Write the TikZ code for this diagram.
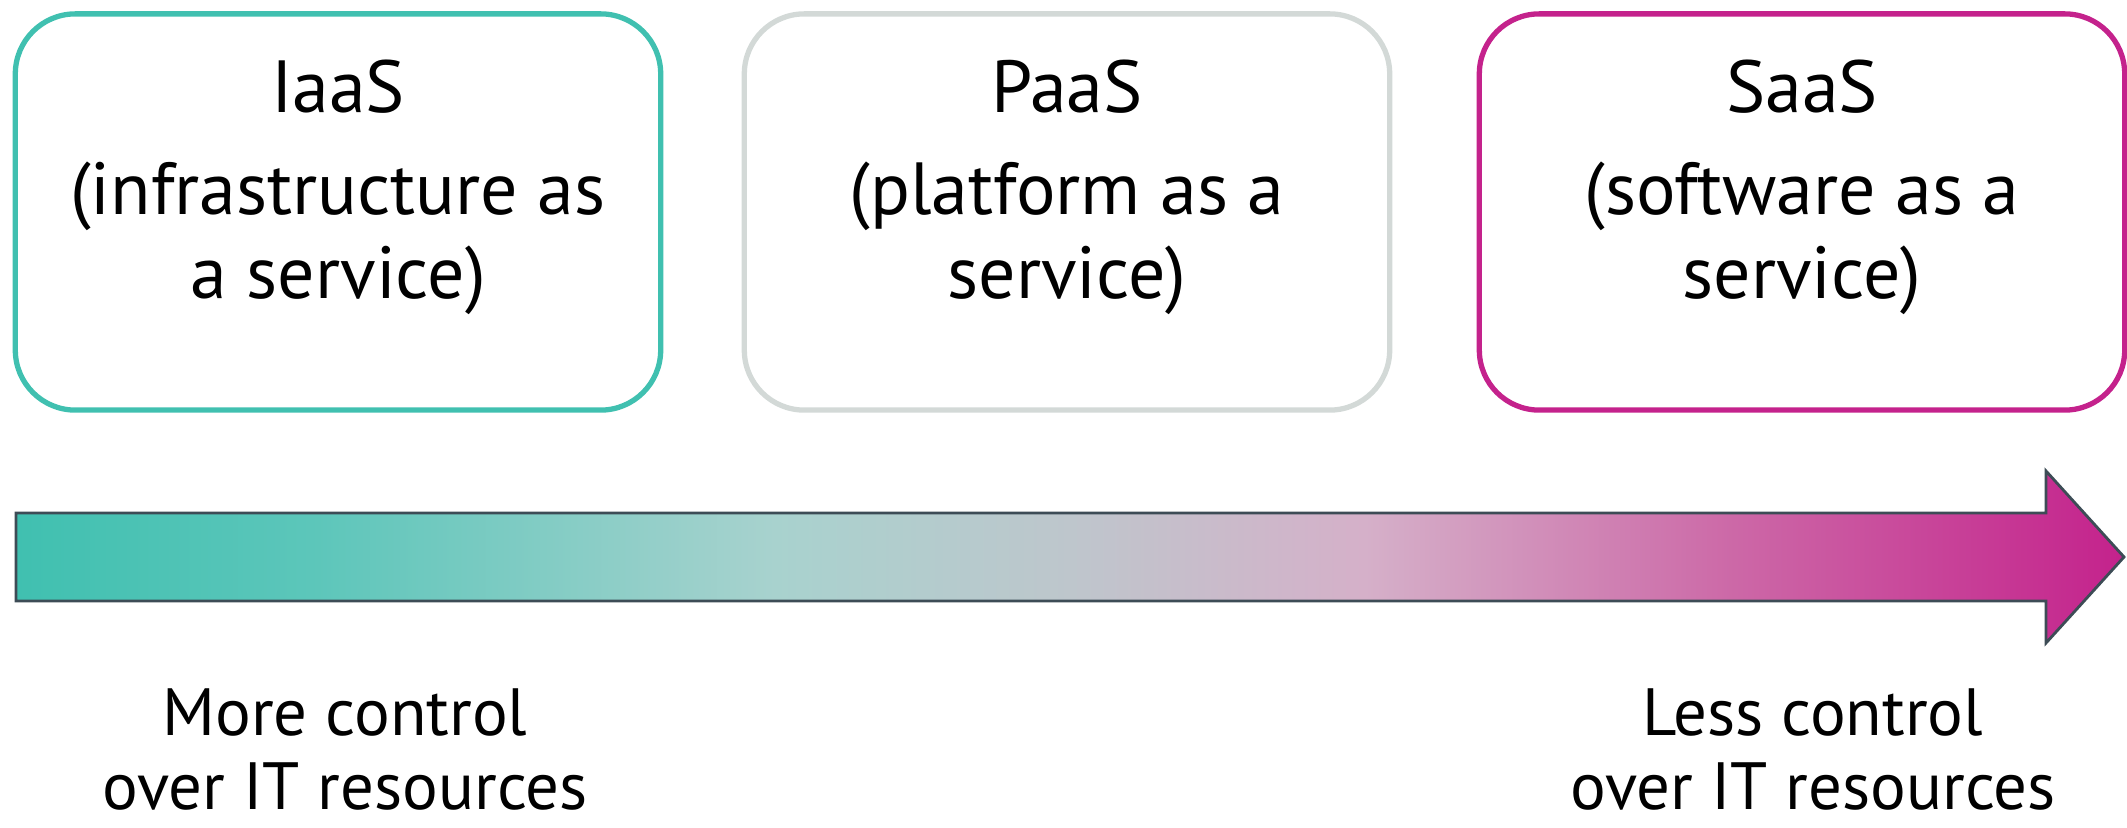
\documentclass[tikz,border=0pt]{standalone}
\usepackage{fontspec}
\setmainfont{PT Sans}
\usetikzlibrary{positioning}
\definecolor{iaasteal}{HTML}{40C0B0}
\definecolor{paasgrey}{HTML}{D3D9D7}
\definecolor{saasmag}{HTML}{C4228C}
\definecolor{arrowedge}{HTML}{3D4C56}
\definecolor{fadeA}{HTML}{5CC6BA}
\definecolor{fadeB}{HTML}{A8D2CE}
\definecolor{fadeC}{HTML}{BEC6CC}
\definecolor{fadeD}{HTML}{D5B0C9}
\definecolor{fadeE}{HTML}{CC66A6}
\pgfdeclarehorizontalshading{controlfade}{100bp}{color(0bp)=(iaasteal); color(25bp)=(iaasteal); color(32bp)=(fadeA); color(43bp)=(fadeB); color(50bp)=(fadeC); color(57bp)=(fadeD); color(66bp)=(fadeE); color(75bp)=(saasmag); color(100bp)=(saasmag)}

\begin{document}
\begin{tikzpicture}[x=0.01cm,y=-0.01cm]
		\path[use as bounding box] (0,0) rectangle (2127,828);
		\tikzstyle{every node}=[inner sep=0pt]
		\tikzstyle{svcbox}=[draw,rounded corners=0.6cm,line width=1.5pt,minimum width=6.45cm,minimum height=3.96cm]
		\tikzstyle{svclabel}=[align=center,font=\fontsize{21}{24}\selectfont]
		\tikzstyle{ctrllabel}=[align=center,font=\fontsize{19}{21}\selectfont]
		
		%% Service models
		\draw (338,212) node [svcbox,draw=iaasteal] (iaas) {};
		\draw (1067,212) node [svcbox,draw=paasgrey] (paas) {};
		\draw (1802,212) node [svcbox,draw=saasmag] (saas) {};
		\node [svclabel,below=0.48cm of iaas.north] (iaastxt) {IaaS\\[5pt](infrastructure as\\a service)};
		\node [svclabel,below=0.48cm of paas.north] (paastxt) {PaaS\\[5pt](platform as a\\service)};
		\node [svclabel,below=0.48cm of saas.north] (saastxt) {SaaS\\[5pt](software as a\\service)};
		
		%% Control arrow
		\shade[shading=controlfade,draw=arrowedge,line width=0.8pt] (16,513) -- (2046,513) -- (2046,471) -- (2124,557) -- (2046,643) -- (2046,601) -- (16,601) -- cycle;
		
		%% Control labels
		\draw (345,688) node [ctrllabel,anchor=north] (more) {More control\\over IT resources};
		\draw (1813,688) node [ctrllabel,anchor=north] (less) {Less control\\over IT resources};
		
	\end{tikzpicture}
\end{document}
